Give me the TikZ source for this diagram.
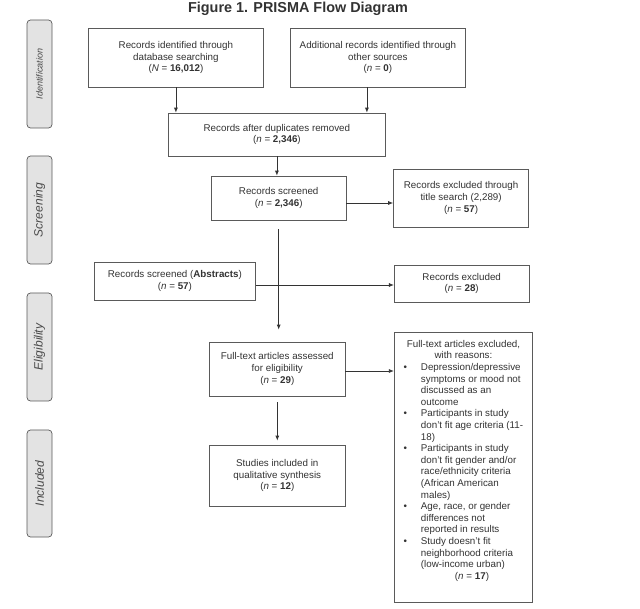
\documentclass[tikz,border=0pt]{standalone}
\usepackage{fontspec}
\setmainfont{Liberation Sans}
\usepackage{array}
\usetikzlibrary{positioning}
\usetikzlibrary{arrows.meta}
\definecolor{linegray}{HTML}{333333}
\definecolor{boxgray}{HTML}{5A5A5A}
\definecolor{phasefill}{HTML}{E3E3E3}
\definecolor{phasetext}{HTML}{4A4A4A}
\tikzset{node distance=60pt, % Centre to centre distance, fine tuned with shifts
every node/.style={text=linegray},
box/.style={ % Sets the properties for each record box
draw=boxgray,
line width=0.7pt,
align=center,
inner sep=2pt,
font=\fontsize{9.8}{11.6}\selectfont},
phase/.style={ % Grey tabs on the left side, text turned with \rotatebox
draw=boxgray,
line width=0.7pt,
fill=phasefill,
rounded corners=3.5pt,
inner sep=0pt,
minimum width=25pt,
minimum height=108pt,
text=phasetext,
font=\fontsize{12}{14}\selectfont\itshape},
every edge/.style={ % Sets the properties for each arrow
draw=linegray,
->,>={Latex[length=5pt,width=4pt]}, % Small filled arrow heads
line width=0.8pt}}

\begin{document}
\begin{tikzpicture}[x=1pt,y=1pt]
                \path[use as bounding box, fill=white] (0,0) rectangle (640,-609);
                \node[font=\fontsize{14.4}{16}\selectfont\bfseries] (title) at (298,-8.5) {Figure 1. PRISMA Flow Diagram};

                \node[box, minimum width=175.4pt, minimum height=59pt] (dbsearch) at (175.9,-57.5) {Records identified through\\ database searching\\ (\textit{N} = \textbf{16,012})};
                \node[box, right of = dbsearch, xshift=142pt, minimum width=175.4pt, minimum height=59pt] (othersrc) {Additional records identified through\\ other sources\\ (\textit{n} = \textbf{0})};
                \node[box, below of = dbsearch, xshift=101pt, yshift=-17pt, minimum width=217.6pt, minimum height=43pt] (dedup) {Records after duplicates removed\\ (\textit{n} = \textbf{2,346})};
                \node[box, below of = dedup, xshift=1.8pt, yshift=-3.5pt, minimum width=134.4pt, minimum height=44pt] (screened) {Records screened\\ (\textit{n} = \textbf{2,346})};
                \node[box, right of = screened, xshift=122.4pt, minimum width=135.2pt, minimum height=58pt] (exctitle) {Records excluded through\\ title search (2,289)\\ (\textit{n} = \textbf{57})};
                \node[box, below of = screened, xshift=-103.8pt, yshift=-23pt, minimum width=161.1pt, minimum height=38pt] (abstracts) {Records screened (\textbf{Abstracts})\\ (\textit{n} = \textbf{57})};
                \node[box, below of = exctitle, xshift=0.6pt, yshift=-25.5pt, minimum width=134.8pt, minimum height=37pt] (excabs) {Records excluded\\ (\textit{n} = \textbf{28})};
                \node[box, below of = screened, xshift=-1.4pt, yshift=-111pt, minimum width=135.6pt, minimum height=54pt] (fulltext) {Full-text articles assessed\\ for eligibility\\ (\textit{n} = \textbf{29})};
                \node[box, below of = fulltext, yshift=-46.5pt, minimum width=135.6pt, minimum height=61pt] (included) {Studies included in\\ qualitative synthesis\\ (\textit{n} = \textbf{12})};
                \node[box, right of = fulltext, xshift=126.2pt, yshift=-98pt, minimum width=138.5pt, minimum height=270pt, inner sep=0pt] (excfull) {%
                \begin{tabular}{@{\hspace{9.3pt}}c@{\hspace{14pt}}>{\raggedright\arraybackslash}p{111.8pt}@{}}
                \multicolumn{2}{@{}c@{}}{Full-text articles excluded,}\\
                \multicolumn{2}{@{}c@{}}{with reasons:}\\
                \textbullet & Depression/depressive\\
                 & symptoms or mood not\\
                 & discussed as an\\
                 & outcome\\
                \textbullet & Participants in study\\
                 & don't fit age criteria (11-\\
                 & 18)\\
                \textbullet & Participants in study\\
                 & don't fit gender and/or\\
                 & race/ethnicity criteria\\
                 & (African American\\
                 & males)\\
                \textbullet & Age, race, or gender\\
                 & differences not\\
                 & reported in results\\
                \textbullet & Study doesn't fit\\
                 & neighborhood criteria\\
                 & (low-income urban)\\
                 & \hspace{34pt}(\textit{n} = \textbf{17})\\[12pt]
                \end{tabular}};

                \node[phase, left of = dbsearch, xshift=-76.4pt, yshift=-16.5pt, font=\fontsize{9}{11}\selectfont\itshape] (ident) {\rotatebox{90}{Identification}};
                \node[phase, below of = ident, yshift=-76pt] (screen) {\rotatebox{90}{Screening}};
                \node[phase, below of = screen, yshift=-77pt] (elig) {\rotatebox{90}{Eligibility}};
                \node[phase, below of = elig, yshift=-76.5pt, minimum height=107pt] (incl) {\rotatebox{90}{Included}};

                \coordinate (srcout) at ([xshift=-11pt]othersrc.south);
                \coordinate (scrout) at ([yshift=-5pt]screened.east);
                \coordinate (absout) at ([yshift=-4pt]abstracts.east);
                \coordinate (fullout) at ([yshift=-2pt]fulltext.east);

                \draw (dbsearch.south) edge (dbsearch.south |- dedup.north)
                (srcout) edge (srcout |- dedup.north)
                (dedup.south) edge (dedup.south |- screened.north)
                (scrout) edge (scrout -| exctitle.west)
                (screened.south) edge[shorten <=9pt, shorten >=12pt] (screened.south |- fulltext.north)
                (absout) edge (absout -| excabs.west)
                (fullout) edge (fullout -| excfull.west)
                (fulltext.south) edge[shorten <=6pt, shorten >=4pt] (included.north);
            \end{tikzpicture}
\end{document}
